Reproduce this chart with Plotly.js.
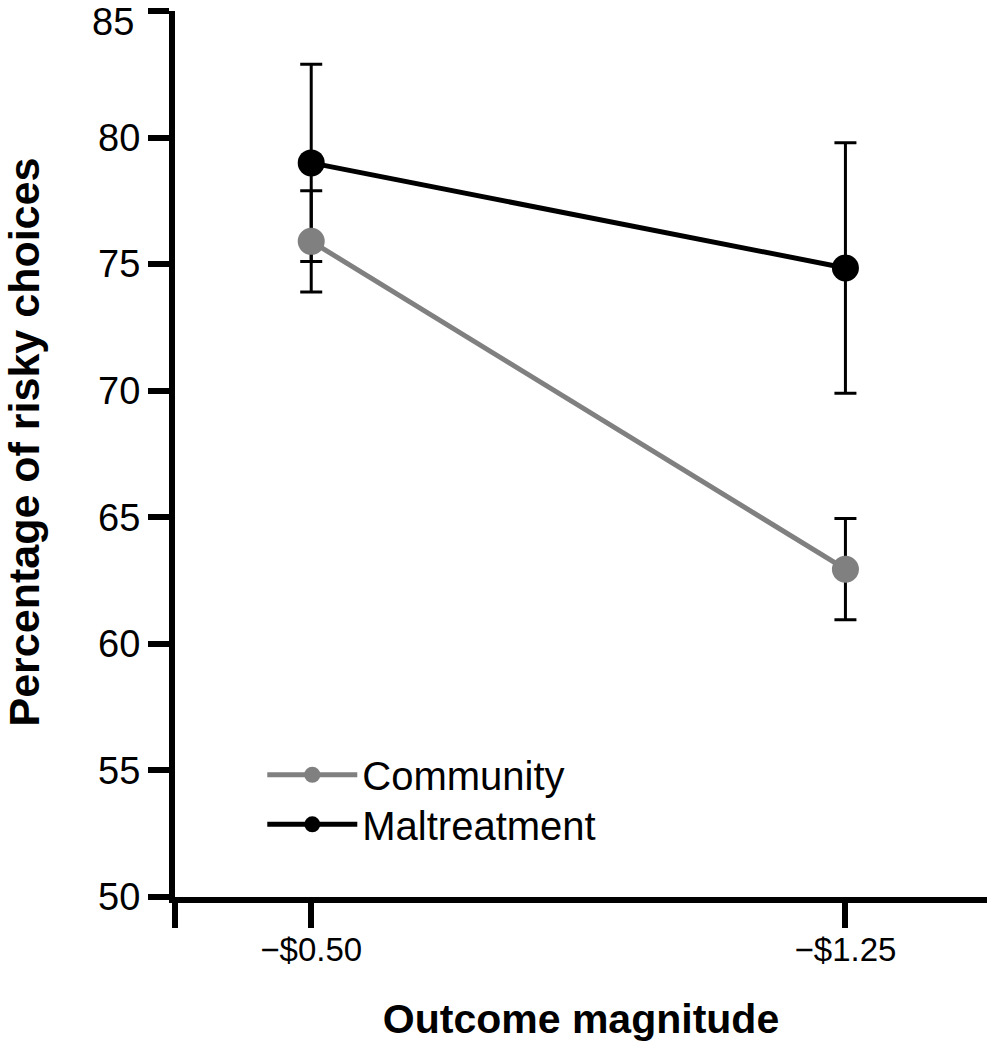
<!DOCTYPE html>
<html>
<head>
<meta charset="utf-8">
<script src="https://cdn.plot.ly/plotly-3.0.1.min.js"></script>
<style>html,body{margin:0;padding:0;background:#fff;}#chart{width:987px;height:1050px;}</style>
</head>
<body>
<div id="chart"></div>
<script>
// Data
var categories = ['\u2212$0.50', '\u2212$1.25'];
var categoryPositions = [1, 2];
var communityValues = [75.9, 62.95];
var communityErrors = [2.0, 2.0];
var maltreatmentValues = [79.0, 74.85];
var maltreatmentErrors = [3.9, 4.95];
var yTicks = [50, 55, 60, 65, 70, 75, 80, 85];
var yTickText = ['50', '55', '60', '65', '70', '75', '80', '85'];

var FONT = 'Liberation Sans, Arial, sans-serif';
var topTick = yTicks[yTicks.length - 1];

var maltreatment = {
  x: categoryPositions, y: maltreatmentValues, name: 'Maltreatment',
  type: 'scatter', mode: 'lines+markers',
  line: {color: '#000000', width: 5},
  marker: {color: '#000000', size: 27},
  error_y: {type: 'data', array: maltreatmentErrors, visible: true, color: '#000000', thickness: 3, width: 11},
  legend: 'legend2'
};
var community = {
  x: categoryPositions, y: communityValues, name: 'Community',
  type: 'scatter', mode: 'lines+markers',
  line: {color: '#808080', width: 5},
  marker: {color: '#808080', size: 27},
  error_y: {type: 'data', array: communityErrors, visible: true, color: '#000000', thickness: 3, width: 11},
  legend: 'legend'
};

// the top tick label sits slightly lower in the reference (kept inside the picture)
var shownTickText = yTickText.map(function (t, i) { return i === yTicks.length - 1 ? '' : t; });

var layout = {
  width: 987, height: 1050,
  margin: {l: 175, r: 0, t: 11, b: 153},
  paper_bgcolor: '#ffffff', plot_bgcolor: '#ffffff',
  font: {family: FONT, color: '#000000', size: 38},
  xaxis: {
    range: [0.745, 2.265],
    tickvals: [0.745].concat(categoryPositions),
    ticktext: [''].concat(categories),
    ticks: 'outside', ticklen: 25, tickwidth: 6, tickcolor: '#000',
    showline: true, linewidth: 6, linecolor: '#000',
    showgrid: false, zeroline: false,
    ticklabelstandoff: -7,
    tickfont: {family: FONT, size: 33},
    title: {text: '<b>Outcome magnitude</b>', font: {family: FONT, size: 41}, standoff: 40}
  },
  yaxis: {
    range: [50, 85],
    tickvals: yTicks,
    ticktext: shownTickText,
    ticks: 'outside', ticklen: 21, tickwidth: 6, tickcolor: '#000',
    showline: true, linewidth: 6, linecolor: '#000',
    showgrid: false, zeroline: false,
    tickfont: {family: FONT, size: 38},
    title: {text: '<b>\u00a0\u00a0Percentage of risky choices</b>', font: {family: FONT, size: 43}, standoff: 52}
  },
  annotations: [{
    xref: 'paper', x: 0, yref: 'y', y: topTick,
    text: yTickText[yTickText.length - 1], showarrow: false,
    xanchor: 'right', yanchor: 'top', xshift: -40, yshift: 11,
    borderpad: 0,
    font: {family: FONT, size: 38, color: '#000'}
  }],
  legend: {
    x: 0.1075, y: 0.138, xanchor: 'left', yanchor: 'middle',
    bgcolor: 'rgba(0,0,0,0)', font: {family: FONT, size: 40},
    itemwidth: 90
  },
  legend2: {
    x: 0.1075, y: 0.082, xanchor: 'left', yanchor: 'middle',
    bgcolor: 'rgba(0,0,0,0)', font: {family: FONT, size: 40},
    itemwidth: 90
  },
  showlegend: true
};

Plotly.newPlot('chart', [maltreatment, community], layout, {staticPlot: true, displayModeBar: false});
</script>
</body>
</html>
